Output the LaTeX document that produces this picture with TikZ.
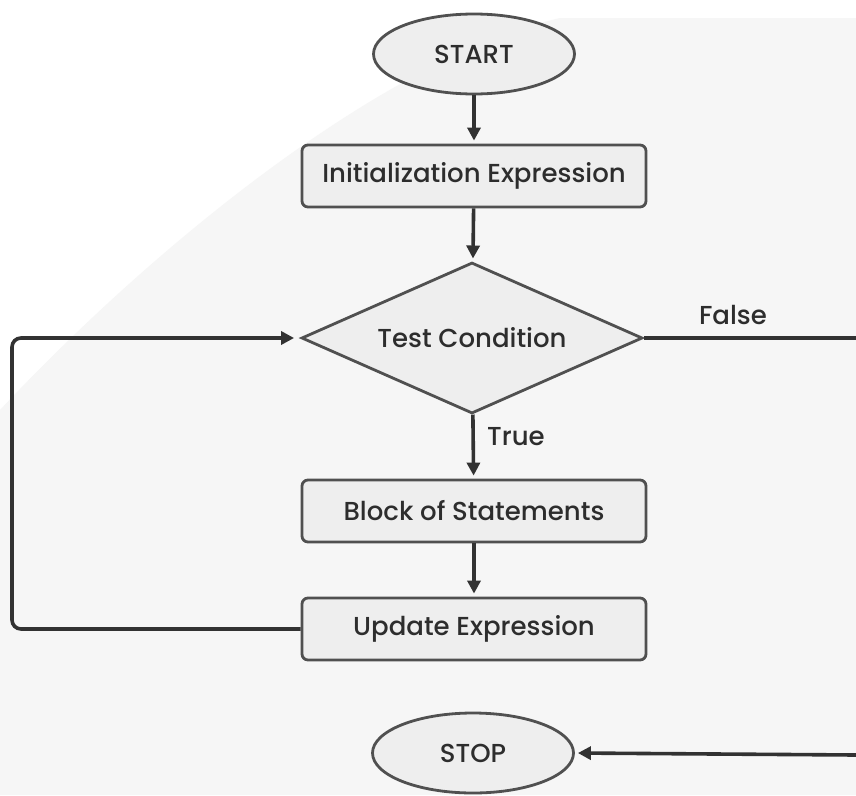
\documentclass[tikz,border=0pt]{standalone}
\usepackage{fontspec}
\setmainfont{Poppins}[UprightFont=* Medium]
\usetikzlibrary{shapes.geometric,arrows.meta}
\definecolor{bgtex}{RGB}{246,246,246}
\definecolor{nodefill}{RGB}{238,238,238}
\definecolor{border}{RGB}{80,80,80}
\definecolor{conn}{RGB}{50,50,50}
\definecolor{txt}{RGB}{45,45,45}
\tikzset{
  base/.style={draw=border, fill=nodefill, line width=2.8pt, text=txt, font=\fontsize{26}{29}\selectfont, inner sep=0pt},
  procbox/.style={base, rectangle, rounded corners=6pt, minimum width=344pt, minimum height=62pt},
  term/.style={base, ellipse, minimum width=201pt, minimum height=80pt},
  decision/.style={base, diamond, aspect=2.26, minimum width=341pt, minimum height=151pt},
  arrowline/.style={draw=conn, line width=3.6pt, -{Triangle[length=13pt,width=13pt]}, shorten >=3pt},
  plainline/.style={draw=conn, line width=3.6pt},
  lbl/.style={text=txt, font=\fontsize{26}{29}\selectfont, inner sep=0pt}
}
\begin{document}
\begin{tikzpicture}[x=1pt,y=-1pt]
\useasboundingbox (0,0) rectangle (856,795);
\fill[white] (0,0) rectangle (856,795);
\fill[bgtex] (0,410) .. controls (150,250) and (380,60) .. (560,18) -- (856,18) -- (856,795) -- (0,795) -- cycle;

\node[term] (start) at (474,54) {START};
\node[procbox] (init) at (474,176) {Initialization Expression};
\node[decision] (test) at (472,338) {Test Condition};
\node[procbox] (block) at (474,511) {Block of Statements};
\node[procbox] (upd) at (474,629) {Update Expression};
\node[term] (stop) at (473,753) {STOP};

\coordinate (lx) at (12,0);
\coordinate (rfalse) at (856,338);
\coordinate (rstop) at (856,755);

\draw[arrowline] (start) -- (init);
\draw[arrowline] (init) -- (test);
\draw[arrowline] (test) -- (block);
\draw[arrowline] (block) -- (upd);
\draw[arrowline, rounded corners=9pt, shorten >=6pt] (upd.west) -- (upd.west -| lx) |- (test.west);
\draw[plainline] (test.east) -- (rfalse);
\draw[arrowline] (rstop) -- (stop.east);

\node[lbl] (lfalse) at (733,315) {False};
\node[lbl] (ltrue) at (516,437) {True};
\end{tikzpicture}
\end{document}
